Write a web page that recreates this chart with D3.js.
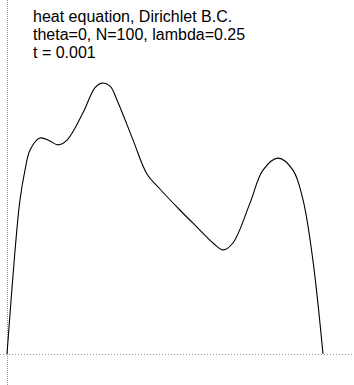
<!DOCTYPE html>
<html>
<head>
<meta charset="utf-8">
<script src="https://cdn.jsdelivr.net/npm/d3@7"></script>
<style>
  body { margin: 0; background: #fff; }
  svg { display: block; }
</style>
</head>
<body>
<div id="app"></div>
<script>
var width = 354,
  height = 385;

// solution u(x, t)
let xs = [0, 0.025, 0.041, 0.057, 0.073, 0.104, 0.136, 0.161, 0.19, 0.24, 0.278, 0.3,
  0.326, 0.348, 0.399, 0.443, 0.484, 0.547, 0.601, 0.652, 0.684, 0.715, 0.769, 0.81, 0.858,
  0.905, 0.937, 0.968, 1];
let us = [0, 0.34, 0.513, 0.613, 0.68, 0.72, 0.71, 0.697, 0.713, 0.803, 0.887, 0.903,
  0.893, 0.847, 0.713, 0.6, 0.55, 0.48, 0.423, 0.37, 0.347, 0.37, 0.503, 0.613, 0.653,
  0.613, 0.513, 0.313, 0];

let titles = ["heat equation, Dirichlet B.C.", "theta=0, N=100, lambda=0.25", "t = 0.001"];

let svg = d3
  .select("#app")
  .append("svg")
  .attr("width", width)
  .attr("height", height);

let x = d3.scaleLinear().domain([0, 1]).range([7, 323]);
let y = d3.scaleLinear().domain([0, 1]).range([354, 54]);

// dotted axes
svg
  .append("line")
  .attr("x1", 0)
  .attr("x2", width)
  .attr("y1", y(0) + 0.5)
  .attr("y2", y(0) + 0.5)
  .style("stroke", "#999")
  .style("stroke-dasharray", "1,2");

svg
  .append("line")
  .attr("x1", x(0) + 0.5)
  .attr("x2", x(0) + 0.5)
  .attr("y1", 0)
  .attr("y2", height)
  .style("stroke", "#999")
  .style("stroke-dasharray", "1,1");

svg
  .append("path")
  .datum(xs)
  .attr(
    "d",
    d3
      .line()
      .curve(d3.curveCatmullRom)
      .x((d) => x(d))
      .y((d, i) => y(us[i]))
  )
  .attr("stroke", "#000")
  .attr("stroke-width", 1.1)
  .attr("fill", "none");

svg
  .append("g")
  .selectAll("text")
  .data(titles)
  .enter()
  .append("text")
  .attr("x", 33)
  .attr("y", (d, i) => 22 + i * 18)
  .style("font-family", "'Liberation Sans', Arial, sans-serif")
  .style("font-size", "16px")
  .text((d) => d);
</script>
</body>
</html>
